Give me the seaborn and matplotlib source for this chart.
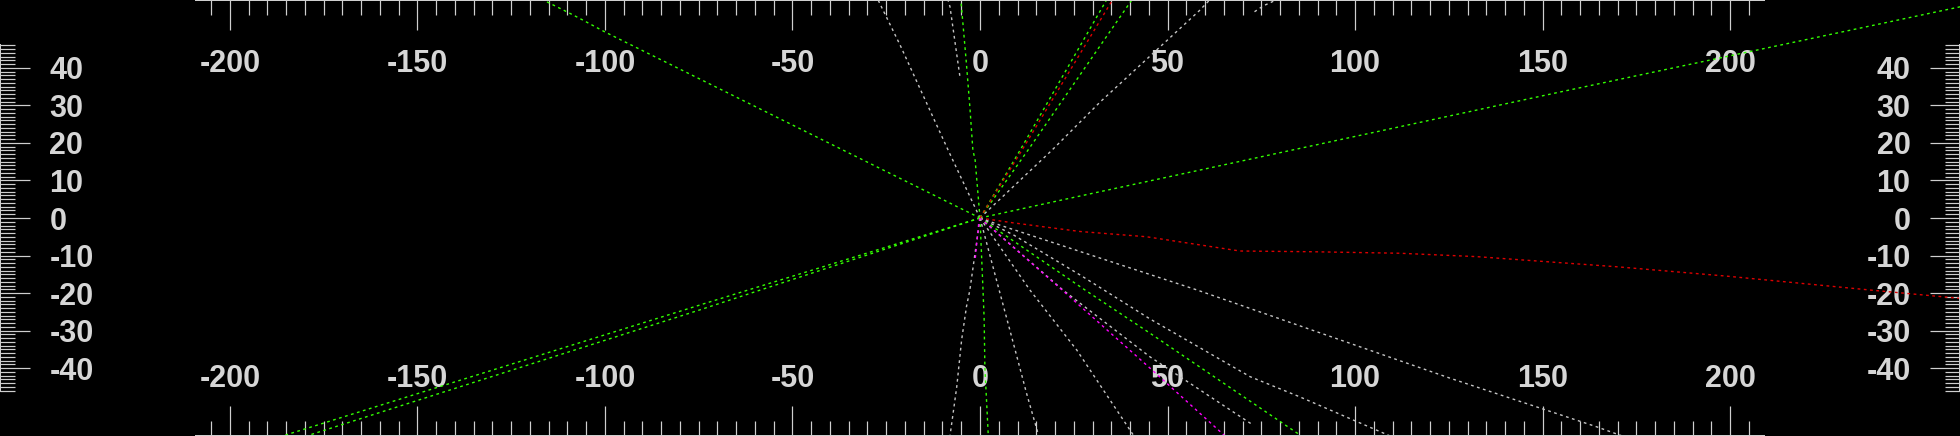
import matplotlib
matplotlib.use('Agg')
import matplotlib.pyplot as plt
import seaborn as sns

# track colours
VERDE = '#33ff00'
ROJO = '#dd0000'
GRIS = '#c4c4c4'
MAGENTA = '#ff00ff'

# ---- tracks (x, y) ----
green_nw_x = [0, -36.5, -100.0, -106.7, -110.2, -117.0]
green_nw_y = [0, 18.1, 49.6, 53.2, 55.0, 58.4]

green_sw_a_x = [0, -74.7, -185.9, -190.0]
green_sw_a_y = [0, -23.2, -58.1, -59.4]
green_sw_b_x = [0, -74.7, -179.5, -183.0]
green_sw_b_y = [0, -24.5, -58.1, -59.3]

green_ene_x = [0, 21.8, 154.7, 261.3, 266.0]
green_ene_y = [0, 4.8, 33.6, 56.3, 57.3]

red_e_x = [0, 8.9, 26.7, 44.4, 69.3, 88.9, 112.0, 132.4, 169.8, 199.1, 237.3, 261.0, 266.0]
red_e_y = [0, -1.3, -3.6, -5.0, -8.8, -9.0, -9.4, -10.3, -13.0, -15.5, -19.2, -21.4, -21.8]

red_nne_x = [0, 11.2, 35.6]
red_nne_y = [0, 18.1, 58.6]
green_nne_a_x = [0, 10.7, 34.0]
green_nne_a_y = [0, 18.1, 58.6]
green_nne_b_x = [0, 12.8, 40.8]
green_nne_b_y = [0, 18.1, 58.6]

grey_ne_x = [0, 19.2, 32.0, 58.4, 61.5]
grey_ne_y = [0, 18.1, 30.9, 55.2, 58.4]
grey_ne_short_x = [73.2, 75.6, 77.6, 79.5]
grey_ne_short_y = [55.0, 56.6, 57.5, 58.4]

grey_nnw_x = [0, -8.5, -21.3, -27.5]
grey_nnw_y = [0, 18.1, 46.1, 58.8]
grey_n_short_x = [-8.6, -8.0, -5.3]
grey_n_short_y = [58.4, 56.3, 37.3]

green_n_x = [0, -1.3, -1.9, -2.7, -3.7, -5.1, -5.3]
green_n_y = [0, 15.5, 18.1, 29.6, 42.1, 58.1, 58.6]
green_s_x = [0, 0.8, 1.1, 1.3, 2.2, 2.3]
green_s_y = [0, -19.2, -26.7, -39.7, -57.9, -58.6]

grey_ssw_x = [0, -2.7, -3.6, -4.9, -6.2, -8.0, -8.1]
grey_ssw_y = [0, -19.2, -23.6, -32.5, -45.0, -58.1, -58.6]
grey_sse_x = [0, 5.1, 8.9, 12.4, 15.6, 15.8]
grey_sse_y = [0, -19.2, -33.4, -46.7, -57.9, -58.6]
grey_se_steep_x = [0, 13.3, 25.8, 40.9, 41.3]
grey_se_steep_y = [0, -19.2, -35.2, -57.9, -58.6]

magenta_se_x = [0, 21.9, 45.3, 65.3, 66.0]
magenta_se_y = [0, -19.2, -40.0, -58.1, -58.6]
magenta_s_x = [0, -0.3, -1.3]
magenta_s_y = [0, -1.0, -11.2]

grey_se_d_x = [0, 22.1, 45.3, 72.8]
grey_se_d_y = [0, -19.2, -37.0, -55.2]
green_se_x = [0, 28.0, 45.3, 84.5, 86.0]
green_se_y = [0, -19.2, -30.7, -57.3, -58.4]
grey_se_mid_x = [0, 8.9, 26.7, 45.3, 72.0, 85.3, 99.6, 109.3, 112.0]
grey_se_mid_y = [0, -4.5, -15.2, -26.9, -42.3, -47.7, -53.9, -58.1, -59.3]
grey_se_long_x = [0, 5.3, 57.9, 125.3, 164.5, 171.2, 175.0]
grey_se_long_y = [0, -1.9, -19.2, -42.7, -55.7, -58.1, -59.4]

tracks = [
    (green_nw_x, green_nw_y, VERDE),
    (green_sw_a_x, green_sw_a_y, VERDE),
    (green_sw_b_x, green_sw_b_y, VERDE),
    (green_ene_x, green_ene_y, VERDE),
    (red_e_x, red_e_y, ROJO),
    (grey_ne_x, grey_ne_y, GRIS),
    (grey_ne_short_x, grey_ne_short_y, GRIS),
    (grey_nnw_x, grey_nnw_y, GRIS),
    (grey_n_short_x, grey_n_short_y, GRIS),
    (green_n_x, green_n_y, VERDE),
    (green_s_x, green_s_y, VERDE),
    (grey_ssw_x, grey_ssw_y, GRIS),
    (grey_sse_x, grey_sse_y, GRIS),
    (grey_se_steep_x, grey_se_steep_y, GRIS),
    (grey_se_d_x, grey_se_d_y, GRIS),
    (grey_se_mid_x, grey_se_mid_y, GRIS),
    (grey_se_long_x, grey_se_long_y, GRIS),
    (green_se_x, green_se_y, VERDE),
    (magenta_se_x, magenta_se_y, MAGENTA),
    (magenta_s_x, magenta_s_y, MAGENTA),
    (green_nne_a_x, green_nne_a_y, VERDE),
    (green_nne_b_x, green_nne_b_y, VERDE),
    (red_nne_x, red_nne_y, ROJO),
]

# axis ticks
x_major = [-200, -150, -100, -50, 0, 50, 100, 150, 200]
x_labels = ['-200', '-150', '-100', '-50', '0', '50', '100', '150', '200']
x_minor = list(range(-205, 206, 5))
y_major = [-40, -30, -20, -10, 0, 10, 20, 30, 40]
y_labels = ['-40', '-30', '-20', '-10', '0', '10', '20', '30', '40']
y_minor = list(range(-46, 47, 1))

sns.set_style('dark')
plt.rcParams['font.family'] = ['Liberation Sans', 'DejaVu Sans']
plt.rcParams['font.weight'] = 'bold'

PX = 0.72  # points per pixel at 100 dpi
TICK_COL = '#cfcfcf'
LABEL_COL = '#d6d6d6'

fig = plt.figure(figsize=(19.6, 4.36), dpi=100, facecolor='black')
ax = fig.add_axes([0, 0, 1, 1])
ax.set_facecolor('black')

for tx, ty, col in tracks:
    sns.lineplot(x=tx, y=ty, sort=False, estimator=None, color=col,
                 linewidth=1.0, linestyle=(0, (2, 2.5)), ax=ax)

ax.set_xlim(-261.33, 261.33)
ax.set_ylim(-58.13, 58.13)
ax.grid(False)

ax.set_xticks(x_major)
ax.set_xticklabels(x_labels)
ax.set_xticks(x_minor, minor=True)
ax.set_yticks(y_major)
ax.set_yticklabels(y_labels)
ax.set_yticks(y_minor, minor=True)

ax.tick_params(which='both', direction='in', color=TICK_COL, width=1.2 * PX,
               top=True, bottom=True, left=True, right=True)
ax.tick_params(which='major', length=30 * PX, pad=-49.5 * PX, labelsize=22,
               labelcolor=LABEL_COL, labeltop=True, labelbottom=True,
               labelleft=True, labelright=True)
ax.tick_params(which='minor', length=15 * PX)

# labels sit inside the frame
for t in ax.xaxis.get_major_ticks():
    t.label2.set_va('top')
    t.label1.set_va('baseline')
for t in ax.yaxis.get_major_ticks():
    t.label1.set_ha('left')
    t.label2.set_ha('right')

for s in ['top', 'bottom']:
    ax.spines[s].set_bounds(-209, 209)
for s in ['left', 'right']:
    ax.spines[s].set_bounds(-46, 46)
for s in ax.spines.values():
    s.set_visible(True)
    s.set_color(TICK_COL)
    s.set_linewidth(2 * PX)

ax.set_xlabel('')
ax.set_ylabel('')
fig.savefig('out.png', dpi=100, facecolor='black')
print("done")
